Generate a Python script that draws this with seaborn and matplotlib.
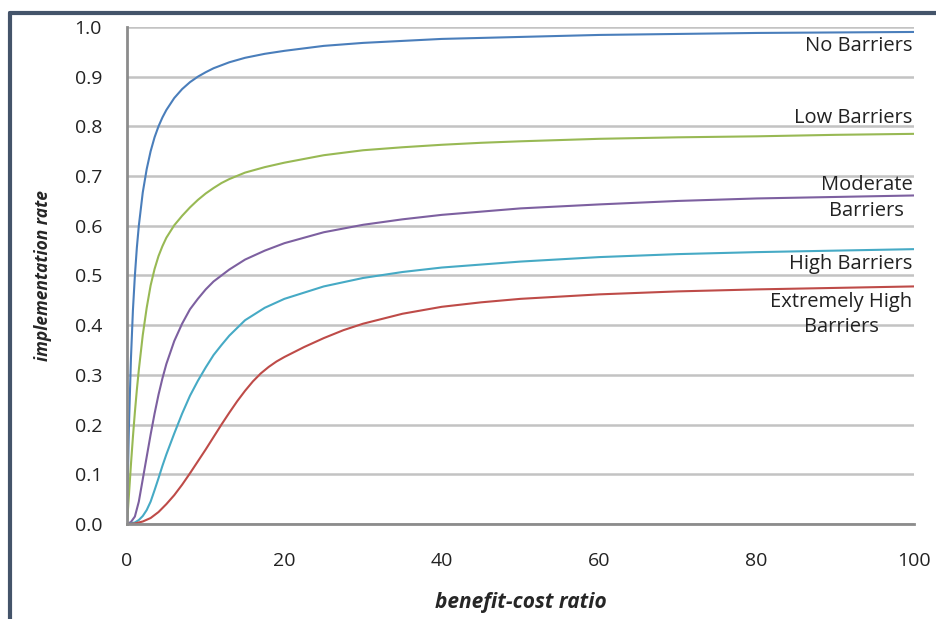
import matplotlib
matplotlib.use("Agg")
import matplotlib.pyplot as plt
from matplotlib.lines import Line2D
import numpy as np
import pandas as pd
import seaborn as sns

# values
no_x = [0, 0.1, 0.25, 0.5, 0.75, 1, 1.25, 1.5, 2, 2.5, 3, 3.5, 4, 4.5, 5, 6, 7, 8, 9, 10, 11, 12, 13,
        15, 17.5, 20, 25, 30, 35, 40, 45, 50, 60, 70, 80, 90, 100]
no_y = [0, 0.09, 0.2, 0.333, 0.43, 0.5, 0.556, 0.6, 0.667, 0.714, 0.75, 0.778, 0.8, 0.818, 0.833,
        0.857, 0.875, 0.889, 0.9, 0.909, 0.917, 0.923, 0.929, 0.938, 0.946, 0.952, 0.962, 0.968,
        0.972, 0.976, 0.978, 0.98, 0.984, 0.986, 0.988, 0.989, 0.99]

low_x = [0, 0.25, 0.5, 0.75, 1, 1.25, 1.5, 1.75, 2, 2.5, 3, 3.5, 4, 4.5, 5, 6, 7, 8, 9, 10, 11, 12, 13,
         15, 17.5, 20, 25, 30, 35, 40, 45, 50, 60, 70, 80, 90, 100]
low_y = [0, 0.06, 0.12, 0.175, 0.225, 0.27, 0.31, 0.345, 0.38, 0.435, 0.48, 0.513, 0.539, 0.559,
         0.576, 0.601, 0.62, 0.637, 0.652, 0.665, 0.676, 0.686, 0.694, 0.707, 0.718, 0.727, 0.742,
         0.752, 0.758, 0.763, 0.767, 0.77, 0.775, 0.778, 0.78, 0.783, 0.785]

mod_x = [0, 0.5, 1, 1.5, 2, 2.5, 3, 3.5, 4, 4.5, 5, 6, 7, 8, 9, 10, 11, 12, 13, 15, 17.5, 20, 25, 30,
         35, 40, 50, 60, 70, 80, 90, 100]
mod_y = [0, 0.004, 0.015, 0.045, 0.09, 0.135, 0.18, 0.222, 0.26, 0.293, 0.322, 0.368, 0.403, 0.432,
         0.453, 0.472, 0.488, 0.5, 0.512, 0.532, 0.55, 0.565, 0.587, 0.602, 0.613, 0.622, 0.635,
         0.643, 0.65, 0.655, 0.658, 0.661]

high_x = [0, 1, 1.5, 2, 2.5, 3, 3.5, 4, 4.5, 5, 6, 7, 8, 9, 10, 11, 12, 13, 15, 17.5, 20, 25, 30, 35,
          40, 50, 60, 70, 80, 90, 100]
high_y = [0, 0.003, 0.008, 0.016, 0.028, 0.045, 0.068, 0.092, 0.117, 0.14, 0.182, 0.222, 0.258,
          0.288, 0.315, 0.34, 0.36, 0.379, 0.41, 0.435, 0.453, 0.478, 0.495, 0.507, 0.516, 0.528,
          0.537, 0.543, 0.547, 0.55, 0.553]

ext_x = [0, 1, 2, 3, 4, 5, 6, 7, 8, 9, 10, 11, 12, 13, 14, 15, 16, 17, 18, 19, 20, 22.5, 25, 27.5,
         30, 35, 40, 45, 50, 60, 70, 80, 90, 100]
ext_y = [0, 0.001, 0.005, 0.012, 0.024, 0.04, 0.058, 0.079, 0.102, 0.126, 0.15, 0.175, 0.2, 0.224,
         0.247, 0.268, 0.287, 0.303, 0.316, 0.327, 0.336, 0.356, 0.374, 0.39, 0.403, 0.423, 0.437,
         0.446, 0.453, 0.462, 0.468, 0.472, 0.475, 0.478]

series = ["No Barriers", "Low Barriers", "Moderate Barriers", "High Barriers", "Extremely High Barriers"]
colors = ["#4a7ebb", "#98b954", "#7d60a0", "#46aac5", "#be4b48"]
labels = ["No Barriers", "Low Barriers", "Moderate\nBarriers", "High Barriers", "Extremely High\nBarriers"]
label_y = [0.962, 0.817, 0.656, 0.523, 0.421]

frames = []
for name, xs, ys in zip(series,
                        [no_x, low_x, mod_x, high_x, ext_x],
                        [no_y, low_y, mod_y, high_y, ext_y]):
    frames.append(pd.DataFrame({"x": xs, "y": ys, "series": name}))
df = pd.concat(frames, ignore_index=True)

sns.set_style("white")
plt.rcParams["font.family"] = ["Open Sans", "DejaVu Sans"]

fig = plt.figure(figsize=(9.36, 6.19), dpi=100)
ax = fig.add_axes([0.1357, 0.1535, 0.8408, 0.8029])

sns.lineplot(data=df, x="x", y="y", hue="series", palette=dict(zip(series, colors)),
             estimator=None, sort=False, linewidth=1.5, legend=False, ax=ax)

ax.set_xlim(0, 100)
ax.set_ylim(0, 1.0)
ax.set_xticks(np.arange(0, 101, 20))
ax.set_yticks(np.arange(0, 1.01, 0.1))
ax.set_yticklabels(["{:.1f}".format(v) for v in np.arange(0, 1.01, 0.1)])
ax.yaxis.grid(True, color="#c3c3c3", linewidth=1.8)
ax.set_axisbelow(True)
for s in ["top", "right"]:
    ax.spines[s].set_visible(False)
for s in ["left", "bottom"]:
    ax.spines[s].set_color("#8c8c8c")
    ax.spines[s].set_linewidth(2)
ax.tick_params(axis="both", direction="out", length=7, width=1.8, color="#8c8c8c",
               labelsize=14, labelcolor="#222222")
ax.tick_params(axis="y", pad=11)
ax.tick_params(axis="x", pad=13)

ax.set_xlabel("benefit-cost ratio", fontsize=15, fontweight="bold", style="italic", labelpad=16)
ax.set_ylabel("implementation rate", fontsize=12.5, fontweight="bold", style="italic", labelpad=16)

for txt, yv in zip(labels, label_y):
    ax.text(99.8, yv, txt, ha="right", va="center", fontsize=14.5, color="#222222",
            multialignment="center", linespacing=1.35)

# dark frame along the top and left edge
fig.add_artist(Line2D([0.011, 0.011], [0, 0.979], transform=fig.transFigure,
                      color="#44546a", linewidth=3))
fig.add_artist(Line2D([0.011, 1.0], [0.979, 0.979], transform=fig.transFigure,
                      color="#44546a", linewidth=3))

fig.savefig("out.png", dpi=100)
